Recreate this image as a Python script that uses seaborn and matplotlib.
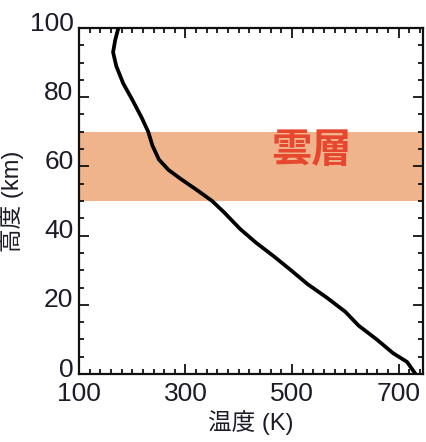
import matplotlib
matplotlib.use("Agg")
import matplotlib.pyplot as plt
from matplotlib.ticker import MultipleLocator
from matplotlib.transforms import ScaledTranslation
import seaborn as sns

# 金星大気の温度プロファイル
altitude_km = [100, 96.5, 93, 89, 84, 79, 74, 70, 66, 62, 59, 56.5, 53, 50,
               46.8, 42, 38, 34, 30, 26, 22, 18, 14, 10, 6, 3.5, 0]
temperature_k = [174, 168, 164, 170, 183, 201, 218, 230, 238, 250, 268, 290, 323, 350,
                 372, 402, 432, 466, 498, 529, 566, 600, 625, 659, 690, 716, 732]

cloud_bottom, cloud_top = 50, 70
cloud_label = "雲層"
x_ticks = [100, 300, 500, 700]
y_ticks = [0, 20, 40, 60, 80, 100]

sns.set_style("ticks")
plt.rcParams["font.family"] = ["Liberation Sans", "Noto Sans CJK JP", "DejaVu Sans"]

fig = plt.figure(figsize=(4.26, 4.42), dpi=100)
ax = fig.add_axes([0.1854, 0.1538, 0.8076, 0.7829])

ax.axhspan(cloud_bottom, cloud_top, color="#EFB48C", lw=0, zorder=0)
sns.lineplot(x=temperature_k, y=altitude_km, sort=False, estimator=None,
             color="black", lw=2.7, ax=ax, zorder=3)
ax.text(536, 64.5, cloud_label, color="#E8472F", fontsize=29, fontweight="bold",
        ha="center", va="center", family=["Noto Sans CJK JP"])

ax.set_xlim(100, 746)
ax.set_ylim(0, 100)
ax.set_xticks(x_ticks)
ax.set_yticks(y_ticks)
ax.xaxis.set_minor_locator(MultipleLocator(20))
ax.yaxis.set_minor_locator(MultipleLocator(5))
ax.tick_params(which="both", direction="in", top=True, right=True, width=1.3,
               color="#111111", labelsize=19, labelcolor="#1c1c28")
ax.tick_params(which="major", length=7)
ax.tick_params(which="minor", length=3.8)
ax.tick_params(axis="x", pad=6)
ax.tick_params(axis="y", pad=4)
for s in ax.spines.values():
    s.set_linewidth(1.6)
    s.set_color("#111111")

ax.set_xlabel("温度 (K)", fontsize=17, color="#1c1c28", labelpad=3)
ax.set_ylabel("高度 (km)", fontsize=17, color="#1c1c28", labelpad=4)

# y目盛りラベルは少し上にずれている
for lab in ax.get_yticklabels():
    lab.set_transform(lab.get_transform() + ScaledTranslation(0, 5 / 72, fig.dpi_scale_trans))

fig.savefig("out.png", dpi=100)
